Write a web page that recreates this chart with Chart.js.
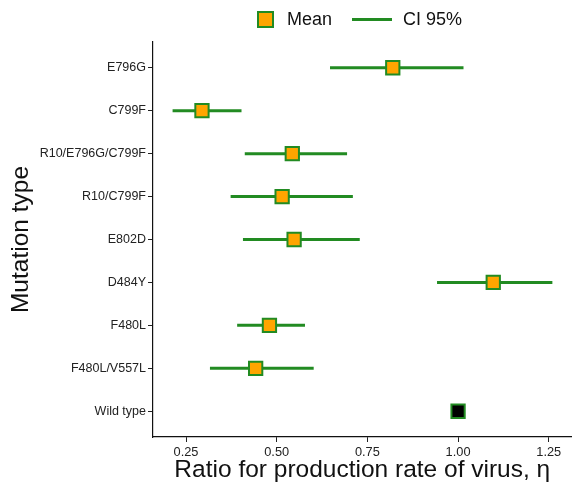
<!DOCTYPE html>
<html>
<head>
<meta charset="utf-8">
<script src="https://cdn.jsdelivr.net/npm/chart.js@4"></script>
<style>
  html, body { margin: 0; padding: 0; background: #fff; }
  #wrap { position: relative; width: 573px; height: 485px; overflow: hidden; }
  #legend {
    position: absolute; top: 9px; left: 0; width: 573px;
    display: flex; justify-content: center; align-items: center;
    font-family: "Liberation Sans", Arial, sans-serif; font-size: 18px; color: #111;
    padding-left: 146px; box-sizing: border-box;
  }
  .item { display: flex; align-items: center; margin: 0 10px; }
  .box { width: 13px; height: 13px; background: #FFA500; border: 2px solid #228B22; margin-right: 13px; }
  .seg { width: 40px; height: 3px; background: #228B22; margin-right: 11px; }
  #chart { position: absolute; left: 0; top: 0; }
</style>
</head>
<body>
<div id="wrap">
  <canvas id="chart" width="583" height="485"></canvas>
  <div id="legend"></div>
</div>
<script>
const mutations = ['E796G', 'C799F', 'R10/E796G/C799F', 'R10/C799F', 'E802D', 'D484Y', 'F480L', 'F480L/V557L', 'Wild type'];
const meanValues = [0.82, 0.294, 0.543, 0.515, 0.548, 1.097, 0.48, 0.442, 1.0];
const ciLow = [0.647, 0.213, 0.412, 0.373, 0.407, 0.942, 0.391, 0.316, null];
const ciHigh = [1.015, 0.403, 0.694, 0.71, 0.729, 1.26, 0.578, 0.602, null];
const xTicks = [0.25, 0.5, 0.75, 1.0, 1.25];
const legendNames = ['Mean', 'CI 95%'];

const green = '#228B22';
const orange = '#FFA500';
const fontFamily = '"Liberation Sans", Arial, sans-serif';

const legendEl = document.getElementById('legend');
legendEl.innerHTML = `<div class="item"><span class="box"></span>${legendNames[0]}</div>` +
  `<div class="item"><span class="seg"></span>${legendNames[1]}</div>`;

const ciDatasets = mutations
  .map((name, idx) => ({ name, idx }))
  .filter(({ idx }) => ciLow[idx] !== null)
  .map(({ name, idx }) => ({
    type: 'line',
    label: `CI ${name}`,
    data: [{ x: ciLow[idx], y: idx }, { x: ciHigh[idx], y: idx }],
    borderColor: green,
    borderWidth: 3,
    pointRadius: 0,
    order: 1,
  }));

const meanDataset = {
  type: 'scatter',
  label: 'Mean',
  data: meanValues.map((v, idx) => ({ x: v, y: idx })),
  pointStyle: 'rect',
  pointRadius: 9.4,
  pointHoverRadius: 9.4,
  borderWidth: 2,
  borderColor: green,
  backgroundColor: mutations.map((m) => (m === 'Wild type' ? '#000' : orange)),
  order: 0,
};

// canvas is 10px wider than the page and clipped: chart.js keeps room for the
// last x tick label, the extra width lets the x axis reach the right edge
new Chart(document.getElementById('chart').getContext('2d'), {
  type: 'scatter',
  data: { datasets: [meanDataset, ...ciDatasets] },
  options: {
    responsive: false,
    animation: false,
    layout: { padding: { top: 42, right: 1, left: 0, bottom: 0 } },
    plugins: { legend: { display: false }, tooltip: { enabled: false } },
    scales: {
      x: {
        type: 'linear',
        min: 0.159,
        max: 1.313,
        afterBuildTicks: (scale) => { scale.ticks = xTicks.map((value) => ({ value })); },
        afterFit: (scale) => { scale.height = 48; },
        grid: { drawOnChartArea: false, drawTicks: true, tickLength: 5, tickColor: '#222', tickWidth: 1 },
        border: { display: true, color: '#111', width: 1.2 },
        ticks: {
          color: '#222',
          padding: 3,
          font: { family: fontFamily, size: 12.8 },
          callback: (value) => Number(value).toFixed(2),
        },
        title: {
          display: true,
          text: 'Ratio for production rate of virus, η',
          color: '#111',
          font: { family: fontFamily, size: 24.5 },
          padding: { top: 0, bottom: 0 },
        },
      },
      y: {
        type: 'linear',
        reverse: true,
        min: -0.6,
        max: mutations.length - 1 + 0.6,
        afterBuildTicks: (scale) => { scale.ticks = mutations.map((_, idx) => ({ value: idx })); },
        afterFit: (scale) => { scale.width = 153; },
        grid: { drawOnChartArea: false, drawTicks: true, tickLength: 5, tickColor: '#222', tickWidth: 1 },
        border: { display: true, color: '#111', width: 1.2 },
        ticks: {
          color: '#222',
          padding: 2,
          font: { family: fontFamily, size: 12.5 },
          callback: (value) => mutations[value] ?? '',
        },
        title: {
          display: true,
          text: 'Mutation type',
          color: '#111',
          font: { family: fontFamily, size: 24.5 },
          padding: { top: 7, bottom: 0 },
        },
      },
    },
  },
});
</script>
</body>
</html>
